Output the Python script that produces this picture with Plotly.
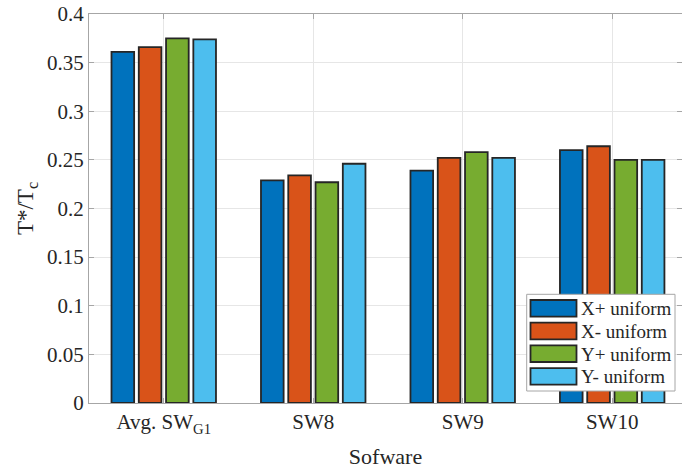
import plotly.graph_objects as go

categories = ["Avg. SW<sub>G1</sub>", "SW8", "SW9", "SW10"]
series_names = ["X+ uniform", "X- uniform", "Y+ uniform", "Y- uniform"]
x_plus = [0.361, 0.229, 0.239, 0.260]
x_minus = [0.366, 0.234, 0.252, 0.264]
y_plus = [0.375, 0.227, 0.258, 0.250]
y_minus = [0.374, 0.246, 0.252, 0.250]
y_ticks = [0, 0.05, 0.1, 0.15, 0.2, 0.25, 0.3, 0.35, 0.4]
y_ticklabels = ["0", "0.05", "0.1", "0.15", "0.2", "0.25", "0.3", "0.35", "0.4"]

colors = ["#0072BD", "#D95319", "#77AC30", "#4DBEEE"]
values = [x_plus, x_minus, y_plus, y_minus]

W, H = 682, 474
ML, MR, MT, MB = 89, 0, 14, 71
PW, PH = W - ML - MR, H - MT - MB


def px_x(p):
    return (p - ML) / PW


def px_y(p):
    return (H - MB - p) / PH


font_family = "Liberation Serif, Times New Roman, serif"
edge = "#262626"
fig = go.Figure()
for name, vals, c in zip(series_names, values, colors):
    fig.add_trace(go.Bar(x=categories, y=vals, name=name, showlegend=False,
                         marker=dict(color=c, line=dict(color=edge, width=1.8))))

# legend box drawn as shapes + text (wide swatches like the original)
shapes = [dict(type="rect", xref="paper", yref="paper",
               x0=px_x(526.7), x1=px_x(675), y0=px_y(391), y1=px_y(294.3),
               fillcolor="white", line=dict(color="#a6a6a6", width=1), layer="above")]
annotations = []
row_pitch = 22.7
first_center = 308.3
for i, (name, c) in enumerate(zip(series_names, colors)):
    cy = first_center + i * row_pitch
    shapes.append(dict(type="rect", xref="paper", yref="paper",
                       x0=px_x(530.5), x1=px_x(576.5), y0=px_y(cy + 8.3), y1=px_y(cy - 8.3),
                       fillcolor=c, line=dict(color=edge, width=1.8), layer="above"))
    annotations.append(dict(xref="paper", yref="paper", x=px_x(579), y=px_y(cy + 0.5),
                            xanchor="left", yanchor="middle", text=name, showarrow=False,
                            font=dict(family=font_family, size=19, color="#262626")))

fig.update_layout(
    width=W, height=H,
    margin=dict(l=ML, r=MR, t=MT, b=MB),
    paper_bgcolor="white", plot_bgcolor="white",
    barmode="group", bargap=0.27, bargroupgap=0.17,
    font=dict(family=font_family, size=21, color="#262626"),
    showlegend=False,
    shapes=shapes, annotations=annotations,
)
fig.update_xaxes(
    type="category", range=[-0.5, 3.467],
    showgrid=True, gridcolor="#e6e6e6", gridwidth=1,
    showline=True, linecolor="#a6a6a6", linewidth=1, mirror="ticks",
    ticks="inside", ticklen=5, tickcolor="#a6a6a6",
    tickfont=dict(family=font_family, size=21, color="#262626"),
    title=dict(text="Sofware", font=dict(family=font_family, size=22, color="#262626"), standoff=12),
)
fig.update_yaxes(
    range=[0, 0.4], tickvals=y_ticks, ticktext=y_ticklabels,
    showgrid=True, gridcolor="#e6e6e6", gridwidth=1, zeroline=False,
    showline=True, linecolor="#a6a6a6", linewidth=1, mirror="ticks",
    ticks="inside", ticklen=5, tickcolor="#a6a6a6",
    tickfont=dict(family=font_family, size=21, color="#262626"),
    title=dict(text="T*/T<sub>c</sub>", font=dict(family=font_family, size=23, color="#262626"), standoff=6),
)
fig.write_html("out.html")
